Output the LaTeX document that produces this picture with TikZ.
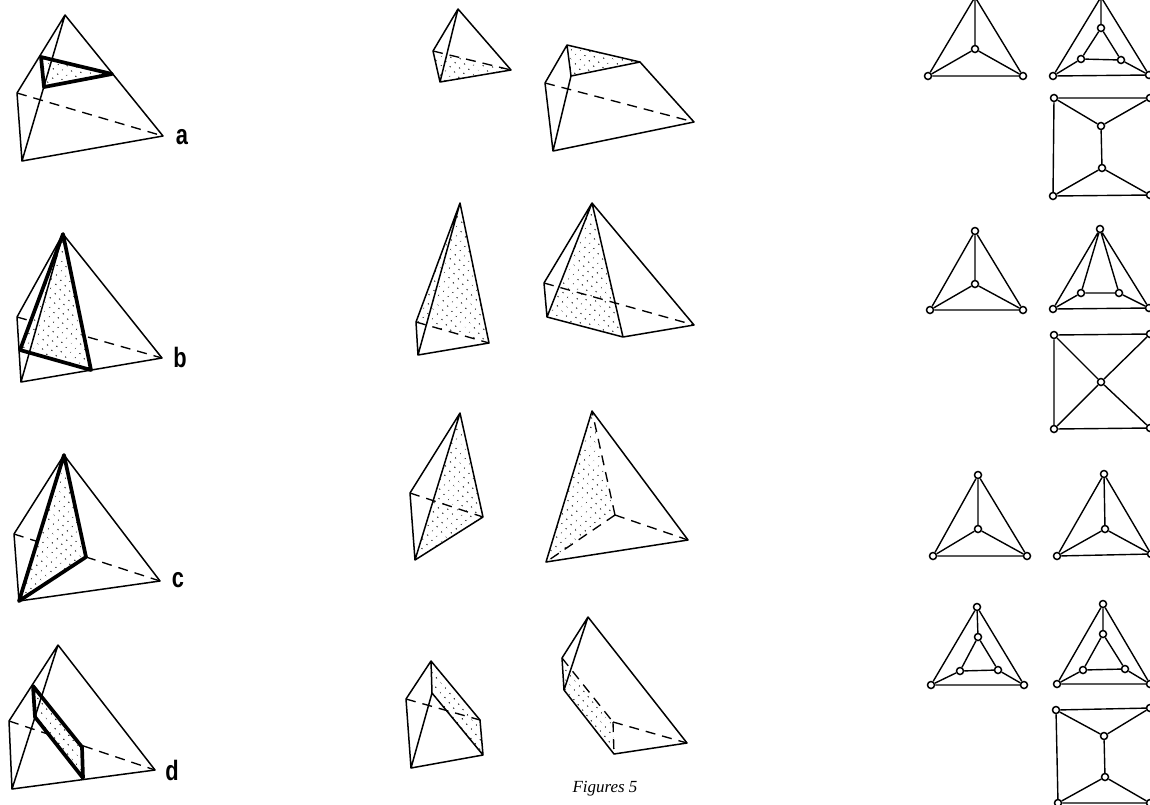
\documentclass[tikz,border=0pt]{standalone}
\usepackage{fontspec}
\setmainfont{Liberation Serif}
\newfontfamily\lblfont[FakeStretch=0.78]{Liberation Sans}
\usetikzlibrary{patterns.meta,calc}
\tikzset{
  thin line/.style={line width=1.5pt,line join=round,line cap=round,black},
  thick line/.style={line width=3.7pt,line join=round,line cap=round,black},
  hidden/.style={line width=1.35pt,dash pattern=on 10pt off 7pt,black},
  stipple/.style={pattern={Dots[radius=0.7pt,distance=6.5pt,angle=40]},pattern color=black!90},
  vtx/.style={circle,draw=black,fill=white,line width=1.5pt,inner sep=0pt,minimum size=7pt},
  gedge/.style={line width=1.4pt,black},
  letter/.style={font=\lblfont\bfseries\fontsize{28}{28}\selectfont,inner sep=0pt},
  caption/.style={font=\itshape\fontsize{17}{17}\selectfont,inner sep=0pt}
}
\begin{document}
\begin{tikzpicture}[x=1pt,y=-1pt]
\useasboundingbox (0,0) rectangle (1150,804);
\fill[white] (0,0) rectangle (1150,804);

% ---------- column 1 ----------
% a
\coordinate (aA) at (65,15);\coordinate (aB) at (17,93);\coordinate (aF) at (22,161);\coordinate (aR) at (163,136);
\coordinate (aP) at (41,57);\coordinate (aQ) at (44,87);\coordinate (aS) at (112,74);
\fill[stipple] (aP)--(aQ)--(aS)--cycle;
\draw[thin line] (aB)--(aA)--(aR)--(aF)--(aB) (aA)--(aF);
\draw[hidden] (aB)--(aR);
\draw[thick line] (aP)--(aQ)--(aS)--cycle;
\node[letter] (la) at (182,137) {a};
% b
\coordinate (bA) at (63,234);\coordinate (bB) at (17,317);\coordinate (bF) at (21,382);\coordinate (bR) at (162,358);
\coordinate (bP) at (20,350);\coordinate (bQ) at (91,370);
\fill[stipple] (bA)--(bP)--(bQ)--cycle;
\draw[thin line] (bB)--(bA)--(bR)--(bF)--(bB) (bA)--(bF);
\draw[hidden] (bB)--($(bB)!.1!(bR)$) ($(bB)!.49!(bR)$)--(bR);
\draw[thick line] (bA)--(bP)--(bQ)--cycle;
\node[letter] (lb) at (180,357) {b};
% c
\coordinate (cA) at (64,455);\coordinate (cB) at (14,534);\coordinate (cF) at (19,601);\coordinate (cR) at (160,581);
\coordinate (cQ) at (86,557);
\fill[stipple] (cA)--(cF)--(cQ)--cycle;
\draw[thin line] (cB)--(cA)--(cR)--(cF)--(cB);
\draw[hidden] (cB)--($(cB)!.157!(cR)$) (cQ)--(cR);
\draw[thick line] (cA)--(cF)--(cQ)--cycle;
\node[letter] (lc) at (178,580) {c};
% d
\coordinate (dA) at (58,645);\coordinate (dB) at (9,721);\coordinate (dF) at (12,789);\coordinate (dR) at (155,770);
\coordinate (dP) at (33,686);\coordinate (dQ) at (35,717);\coordinate (dS) at (83,778);\coordinate (dT) at (82,747);
\fill[stipple] (dP)--(dQ)--(dS)--(dT)--cycle;
\draw[thin line] (dB)--(dA)--(dR)--(dF)--(dB) (dA)--(dF);
\draw[hidden] (dB)--($(dB)!.26!(dR)$) ($(dB)!.507!(dR)$)--(dR);
\draw[thick line] (dP)--(dQ)--(dS)--(dT)--cycle;
\node[letter] (ld) at (172,770) {d};

% ---------- column 2 ----------
% row 1
\coordinate (eA) at (458,9);\coordinate (eB) at (433,51);\coordinate (eF) at (440,82);\coordinate (eR) at (511,70);
\fill[stipple] (eB)--(eF)--(eR)--cycle;
\draw[thin line] (eB)--(eA)--(eR)--(eF)--(eB) (eA)--(eF);
\draw[hidden] (eB)--(eR);
\coordinate (fA) at (567,45);\coordinate (fB) at (545,83);\coordinate (fF) at (553,151);\coordinate (fR) at (694,122);
\coordinate (fP) at (571,76);\coordinate (fQ) at (640,62);
\fill[stipple] (fA)--(fP)--(fQ)--cycle;
\draw[thin line] (fB)--(fA)--(fQ)--(fR)--(fF)--(fB) (fA)--(fP)--(fF) (fP)--(fQ);
\draw[hidden] (fB)--(fR);
% row 2
\coordinate (gA) at (460,203);\coordinate (gB) at (416,322);\coordinate (gF) at (418,355);\coordinate (gR) at (489,343);
\fill[stipple] (gA)--(gB)--(gR)--cycle;
\draw[thin line] (gB)--(gA)--(gR)--(gF)--(gB) (gA)--(gF);
\draw[hidden] (gB)--(gR);
\coordinate (hA) at (592,203);\coordinate (hB) at (544,283);\coordinate (hP) at (547,317);\coordinate (hQ) at (623,337);\coordinate (hR) at (694,325);
\fill[stipple] (hA)--(hP)--(hQ)--cycle;
\draw[thin line] (hB)--(hA)--(hR)--(hQ)--(hP)--(hB) (hP)--(hA)--(hQ);
\draw[hidden] (hB)--(hR);
% row 3
\coordinate (iA) at (460,413);\coordinate (iB) at (410,493);\coordinate (iF) at (415,560);\coordinate (iR) at (483,517);
\fill[stipple] (iA)--(iF)--(iR)--cycle;
\draw[thin line] (iB)--(iA)--(iR)--(iF)--(iB) (iA)--(iF);
\draw[hidden] (iB)--(iR);
\coordinate (jA) at (592,411);\coordinate (jF) at (546,562);\coordinate (jR) at (688,540);\coordinate (jI) at (615,515);
\fill[stipple] (jA)--(jF)--(jI)--cycle;
\draw[thin line] (jA)--(jR)--(jF)--cycle;
\draw[hidden] (jI)--(jA) (jI)--(jF) (jI)--(jR);
% row 4
\coordinate (kA) at (431,661);\coordinate (kB) at (406,699);\coordinate (kF) at (411,768);\coordinate (kR) at (483,755);
\coordinate (kP) at (432,693);\coordinate (kQ) at (480,720);
\fill[stipple] (kA)--(kP)--(kR)--(kQ)--cycle;
\draw[thin line] (kB)--(kA)--(kQ)--(kR)--(kF)--(kB) (kA)--(kP)--(kF) (kP)--(kR);
\draw[hidden] (kB)--(kQ);
\coordinate (mA) at (588,617);\coordinate (mB) at (562,658);\coordinate (mP) at (564,690);\coordinate (mF) at (614,754);\coordinate (mR) at (687,743);\coordinate (mQ) at (613,722);
\fill[stipple] (mB)--(mP)--(mF)--(mQ)--cycle;
\draw[thin line] (mB)--(mA)--(mR)--(mF)--(mP)--(mB) (mA)--(mP);
\draw[hidden] (mB)--(mQ) (mQ)--(mF) (mQ)--(mR);
\node[caption] (cap) at (605,789) {Figures 5};

% ---------- graphs ----------
% G1
\coordinate (g1T) at (975,-3);
\node[vtx] (g1L) at (928,76) {};\node[vtx] (g1R) at (1023,76) {};\node[vtx] (g1C) at (975,49) {};
\draw[gedge] (g1T)--(g1L) (g1T)--(g1R) (g1T)--(g1C) (g1L)--(g1R) (g1L)--(g1C) (g1R)--(g1C);
% G2
\coordinate (g2T) at (1101,-3);
\node[vtx] (g2L) at (1053,76) {};\node[vtx] (g2R) at (1149,75) {};
\node[vtx] (g2a) at (1101,28) {};\node[vtx] (g2b) at (1081,59) {};\node[vtx] (g2c) at (1121,60) {};
\draw[gedge] (g2T)--(g2L) (g2T)--(g2R) (g2T)--(g2a) (g2L)--(g2R) (g2L)--(g2b) (g2R)--(g2c) (g2a)--(g2b)--(g2c)--(g2a);
% G3
\node[vtx] (g3a) at (1054,98) {};\node[vtx] (g3b) at (1150,98) {};\node[vtx] (g3c) at (1053,196) {};\node[vtx] (g3d) at (1150,195) {};
\node[vtx] (g3e) at (1101,126) {};\node[vtx] (g3f) at (1102,168) {};
\draw[gedge] (g3a)--(g3b) (g3a)--(g3c) (g3c)--(g3d) (g3a)--(g3e) (g3b)--(g3e) (g3e)--(g3f) (g3f)--(g3c) (g3f)--(g3d);
% G4
\node[vtx] (g4T) at (975,231) {};\node[vtx] (g4L) at (930,310) {};\node[vtx] (g4R) at (1023,310) {};\node[vtx] (g4C) at (975,284) {};
\draw[gedge] (g4T)--(g4L) (g4T)--(g4R) (g4T)--(g4C) (g4L)--(g4R) (g4L)--(g4C) (g4R)--(g4C);
% G5
\node[vtx] (g5T) at (1100,229) {};\node[vtx] (g5L) at (1053,309) {};\node[vtx] (g5R) at (1149,308) {};\node[vtx] (g5b) at (1081,293) {};\node[vtx] (g5c) at (1119,293) {};
\draw[gedge] (g5T)--(g5L) (g5T)--(g5R) (g5T)--(g5b) (g5T)--(g5c) (g5b)--(g5c) (g5b)--(g5L) (g5c)--(g5R) (g5L)--(g5R);
% G6
\node[vtx] (g6a) at (1054,335) {};\node[vtx] (g6b) at (1150,334) {};\node[vtx] (g6c) at (1054,429) {};\node[vtx] (g6d) at (1150,428) {};\node[vtx] (g6e) at (1101,382) {};
\draw[gedge] (g6a)--(g6b) (g6a)--(g6c) (g6c)--(g6d) (g6a)--(g6e) (g6b)--(g6e) (g6c)--(g6e) (g6d)--(g6e);
% G7
\node[vtx] (g7T) at (978,475) {};\node[vtx] (g7L) at (933,556) {};\node[vtx] (g7R) at (1027,556) {};\node[vtx] (g7C) at (978,529) {};
\draw[gedge] (g7T)--(g7L) (g7T)--(g7R) (g7T)--(g7C) (g7L)--(g7R) (g7L)--(g7C) (g7R)--(g7C);
% G8
\node[vtx] (g8T) at (1104,474) {};\node[vtx] (g8L) at (1057,556) {};\node[vtx] (g8R) at (1151,554) {};\node[vtx] (g8C) at (1105,529) {};
\draw[gedge] (g8T)--(g8L) (g8T)--(g8R) (g8T)--(g8C) (g8L)--(g8R) (g8L)--(g8C) (g8R)--(g8C);
% G9
\node[vtx] (g9T) at (977,607) {};\node[vtx] (g9L) at (931,685) {};\node[vtx] (g9R) at (1024,685) {};
\node[vtx] (g9a) at (978,637) {};\node[vtx] (g9b) at (960,671) {};\node[vtx] (g9c) at (998,670) {};
\draw[gedge] (g9T)--(g9L) (g9T)--(g9R) (g9T)--(g9a) (g9L)--(g9R) (g9L)--(g9b) (g9R)--(g9c) (g9a)--(g9b) (g9b)--(g9c) (g9c)--(g9a);
% G10
\node[vtx] (g10T) at (1103,604) {};\node[vtx] (g10L) at (1057,684) {};\node[vtx] (g10R) at (1150,684) {};
\node[vtx] (g10a) at (1103,634) {};\node[vtx] (g10b) at (1083,670) {};\node[vtx] (g10c) at (1125,669) {};
\draw[gedge] (g10T)--(g10L) (g10T)--(g10R) (g10T)--(g10a) (g10L)--(g10R) (g10L)--(g10b) (g10R)--(g10c) (g10a)--(g10b) (g10b)--(g10c) (g10c)--(g10a);
% G11
\node[vtx] (g11a) at (1056,710) {};\node[vtx] (g11b) at (1150,708) {};\node[vtx] (g11c) at (1058,803) {};\node[vtx] (g11d) at (1150,803) {};
\node[vtx] (g11e) at (1104,736) {};\node[vtx] (g11f) at (1105,777) {};
\draw[gedge] (g11a)--(g11b) (g11a)--(g11c) (g11c)--(g11d) (g11a)--(g11e) (g11b)--(g11e) (g11e)--(g11f) (g11f)--(g11c) (g11f)--(g11d);
\end{tikzpicture}
\end{document}
